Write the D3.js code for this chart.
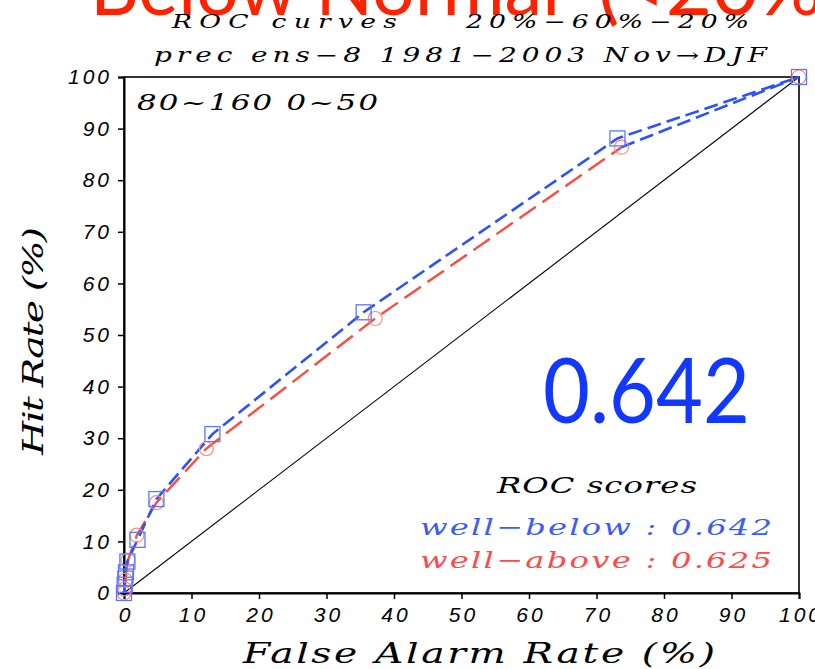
<!DOCTYPE html>
<html><head><meta charset="utf-8">
<script src="https://cdn.jsdelivr.net/npm/d3@7"></script>
<style>
html,body{margin:0;padding:0;background:#fff;overflow:hidden}
svg{display:block}
</style></head>
<body>
<script>
// ---- data ----
const belowFAR = [0, 0.1, 0.2, 0.3, 0.5, 2.0, 4.8, 13.1, 35.5, 73.1, 100];
const belowHR  = [0, 1.6, 2.8, 4.0, 6.1, 10.3, 18.2, 30.8, 54.4, 88.1, 100];
const aboveFAR = [0, 0.1, 0.2, 0.6, 1.9, 4.8, 12.2, 37.2, 73.7, 100];
const aboveHR  = [0, 0.8, 2.5, 6.4, 11.2, 17.5, 28.0, 53.2, 86.4, 100];
const xTicks = [0,10,20,30,40,50,60,70,80,90,100];
const yTicks = [0,10,20,30,40,50,60,70,80,90,100];
const scoreBelow = "0.642", scoreAbove = "0.625";

const W = 815, H = 669;
const svg = d3.select("body").append("svg").attr("width", W).attr("height", H);
const x = d3.scaleLinear().domain([0,100]).range([124,799]);
const y = d3.scaleLinear().domain([0,100]).range([593,77]);

const blue = "#2a52ff", red = "#ff4a3d";
const serif = "'DejaVu Serif', serif";
const sans = "'Liberation Sans', Arial, sans-serif";

// big red heading (cut off at top)
svg.append("text").attr("x", 90).attr("y", 15)
  .attr("font-family", "Lato, 'Open Sans', sans-serif").attr("font-size", 80)
  .attr("fill", "#ff2200").attr("textLength", 470).attr("lengthAdjust","spacingAndGlyphs")
  .text("Below Normal");
svg.append("text").attr("x", 598).attr("y", 15)
  .attr("font-family", "Lato, 'Open Sans', sans-serif").attr("font-size", 80)
  .attr("fill", "#ff2200")
  .text("(<20%)");

const SX = 1.4;
function gtext(str, x0, x1, yb, size, color) {
  return svg.append("text")
    .attr("transform", `translate(${x0},${yb}) scale(${SX},1)`)
    .attr("font-family", serif).attr("font-style", "italic")
    .attr("font-size", size).attr("fill", color || "#000")
    .attr("textLength", (x1 - x0) / SX).attr("lengthAdjust", "spacing")
    .text(str);
}
gtext("ROC curves", 172, 397, 28, 19);
gtext("20%\u221260%\u221220%", 466, 749, 28, 19);
gtext("prec ens\u22128 1981\u22122003 Nov\u2192DJF", 154, 767, 62, 20);

// diagonal
svg.append("line").attr("x1", x(0)).attr("y1", y(0)).attr("x2", x(100)).attr("y2", y(100))
  .attr("stroke", "#000").attr("stroke-width", 1.1);

// frame
svg.append("rect").attr("x", x(0)).attr("y", y(100))
  .attr("width", x(100)-x(0)).attr("height", y(0)-y(100))
  .attr("fill", "none").attr("stroke", "#000").attr("stroke-width", 1.6);

// axes
const gx = svg.append("g").attr("transform", `translate(0,${y(0)})`)
  .call(d3.axisBottom(x).tickValues(xTicks).tickSize(6).tickPadding(8).tickFormat(d3.format("d")));
const gy = svg.append("g").attr("transform", `translate(${x(0)},0)`)
  .call(d3.axisLeft(y).tickValues(yTicks).tickSize(6).tickPadding(6).tickFormat(d3.format("d")));
[gx, gy].forEach(g => {
  g.select(".domain").attr("stroke", "#000").attr("stroke-width", 2);
  g.selectAll(".tick line").attr("stroke", "#000").attr("stroke-width", 1.5);
  g.selectAll(".tick text").attr("font-family", sans).attr("font-style", "italic")
    .attr("font-size", 21).attr("letter-spacing", 3).attr("fill", "#000");
});
gx.selectAll(".tick text").attr("dx", 1.5);

// axis titles
gtext("False Alarm Rate (%)", 243, 715, 663, 28);
svg.append("text").attr("transform", `translate(43,455) rotate(-90) scale(${SX},1)`)
  .attr("font-family", serif).attr("font-style", "italic").attr("font-size", 28)
  .attr("textLength", 228 / SX).attr("lengthAdjust", "spacing").text("Hit Rate (%)");

// region label
gtext("80~160  0~50", 137, 378, 110, 22);

// curves
const line = d3.line().x(d => x(d[0])).y(d => y(d[1]));
const belowPts = belowFAR.map((v,i) => [v, belowHR[i]]);
const abovePts = aboveFAR.map((v,i) => [v, aboveHR[i]]);
const n = abovePts.length;
svg.append("path").attr("d", line(abovePts.slice(0, n-1))).attr("fill","none")
  .attr("stroke", red).attr("stroke-width", 2.4).attr("stroke-dasharray", "20,8");
svg.append("path").attr("d", line(abovePts.slice(n-2))).attr("fill","none")
  .attr("stroke", blue).attr("stroke-width", 2.6).attr("stroke-dasharray", "14,6");
svg.append("path").attr("d", line(belowPts)).attr("fill","none")
  .attr("stroke", blue).attr("stroke-width", 2.6).attr("stroke-dasharray", "14,6");

// markers
svg.append("g").selectAll("circle").data(abovePts).join("circle")
  .attr("cx", d => x(d[0])).attr("cy", d => y(d[1])).attr("r", 7)
  .attr("fill", "none").attr("stroke", "#ff8a80").attr("stroke-width", 1.2);
svg.append("g").selectAll("rect").data(belowPts).join("rect")
  .attr("x", d => x(d[0]) - 7.5).attr("y", d => y(d[1]) - 7.5)
  .attr("width", 15).attr("height", 15)
  .attr("fill", "none").attr("stroke", "#5a78ff").attr("stroke-width", 1.3);

// ROC scores box text
gtext("ROC scores", 497, 697, 493, 23);
gtext("well\u2212below : " + scoreBelow, 420, 772, 535, 23, "#3a5cff");
gtext("well\u2212above : " + scoreAbove, 420, 772, 568, 23, "#ff4a4a");

// big score
svg.append("text").attr("x", 543).attr("y", 423)
  .attr("font-family", "Lato, 'Open Sans', sans-serif").attr("font-size", 92)
  .attr("fill", "#1238ff").attr("textLength", 207).attr("lengthAdjust", "spacingAndGlyphs")
  .text(scoreBelow);
</script>
</body></html>
